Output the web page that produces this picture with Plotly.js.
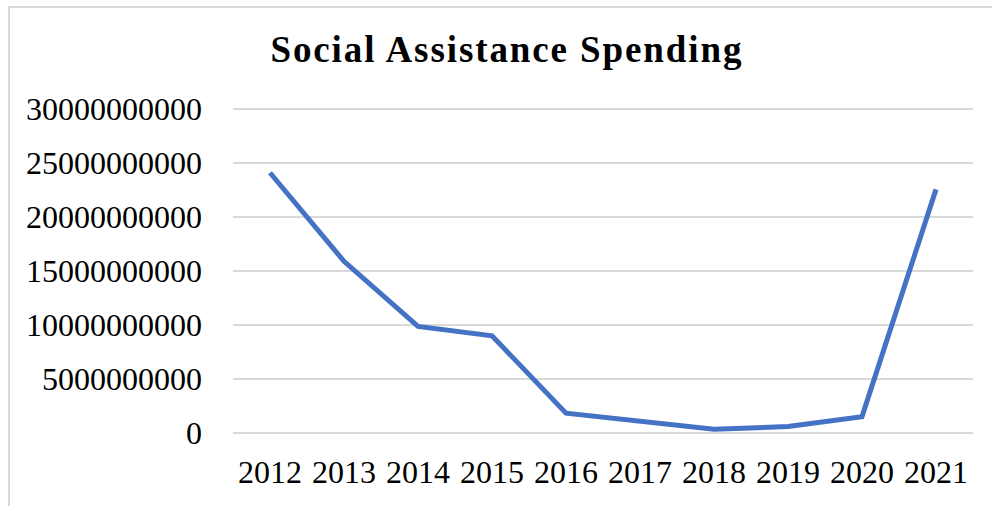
<!DOCTYPE html>
<html>
<head>
<meta charset="utf-8">
<script src="https://cdn.plot.ly/plotly-3.0.1.min.js"></script>
<style>
html,body{margin:0;padding:0;background:#fff;}
#frame{position:absolute;left:8px;top:6px;width:1000px;height:520px;border-left:2px solid #d9d9d9;border-top:2px solid #d9d9d9;}
#chart{position:absolute;left:0;top:0;width:992px;height:506px;}
#chart .gtitle{letter-spacing:1.9px;}
</style>
</head>
<body>
<div id="frame"></div>
<div id="chart"></div>
<script>
const years = ["2012","2013","2014","2015","2016","2017","2018","2019","2020","2021"];
const spending = [24100000000, 15900000000, 9870000000, 9000000000, 1830000000, 1100000000, 340000000, 590000000, 1510000000, 22560000000];
const yTicks = [0, 5000000000, 10000000000, 15000000000, 20000000000, 25000000000, 30000000000];
const yTickText = ["0","5000000000","10000000000","15000000000","20000000000","25000000000","30000000000"];

const trace = {
  x: years, y: spending, type: 'scatter', mode: 'lines',
  line: {color: '#4472C4', width: 5},
  hoverinfo: 'skip'
};
const layout = {
  width: 992, height: 506,
  margin: {l: 233, r: 19, t: 108, b: 72},
  paper_bgcolor: 'rgba(0,0,0,0)', plot_bgcolor: 'rgba(0,0,0,0)',
  showlegend: false,
  title: {text: 'Social Assistance Spending', xref: 'container', yref: 'container', x: 0.511, y: 0.904, xanchor: 'center', yanchor: 'middle',
          font: {family: 'Liberation Serif', size: 37, color: '#000', weight: 'bold'}},
  xaxis: {type: 'category', range: [-0.5, 9.5], showgrid: false, zeroline: false, showline: false, ticks: '',
          tickfont: {family: 'Liberation Serif', size: 32, color: '#000'}, ticklabelstandoff: 16, fixedrange: true},
  yaxis: {range: [-100000000, 30100000000], tickvals: yTicks, ticktext: yTickText, showgrid: true, gridcolor: '#d9d9d9', gridwidth: 2,
          zeroline: false, showline: false, ticks: '', tickfont: {family: 'Liberation Serif', size: 32, color: '#000'},
          ticklabelstandoff: 30, fixedrange: true}
};
Plotly.newPlot('chart', [trace], layout, {displayModeBar: false, staticPlot: true});
</script>
</body>
</html>
